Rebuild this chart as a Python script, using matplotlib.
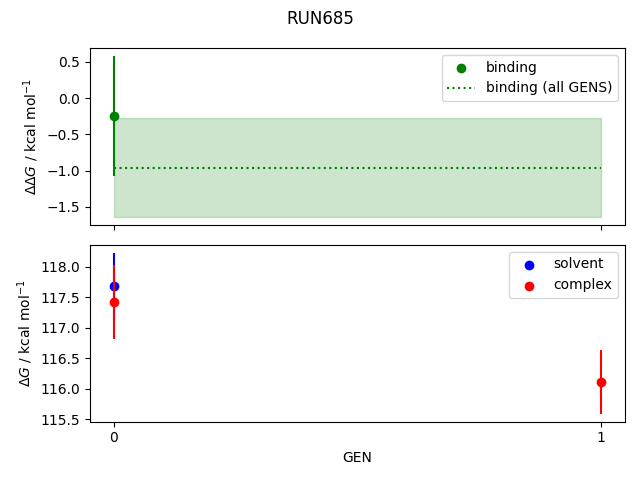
import numpy as np
import matplotlib
matplotlib.use('Agg')
import matplotlib.pyplot as plt

# Data
gens = [0, 1]
binding_gens = [0]
binding = [-0.25]
binding_err = [0.83]
binding_all = -0.96
binding_all_err = 0.68

solvent_gens = [0]
solvent = [117.68]
solvent_err = [0.55]

complex_gens = [0, 1]
complex_ = [117.42, 116.11]
complex_err = [0.61, 0.52]

fig, (ax1, ax2) = plt.subplots(2, 1, sharex=True, figsize=(6.4, 4.8))
fig.suptitle('RUN685')

# Top panel: binding free energy
ax1.errorbar(binding_gens, binding, yerr=binding_err, fmt='none', ecolor='green')
ax1.scatter(binding_gens, binding, color='green', label='binding')
ax1.hlines(binding_all, gens[0], gens[-1], color='green', linestyle=':',
           label='binding (all GENS)')
ax1.fill_between(gens, binding_all - binding_all_err, binding_all + binding_all_err,
                 color='green', alpha=0.2)
ax1.set_ylabel(r'$\Delta\Delta G$ / kcal mol$^{-1}$')
ax1.legend()

# Bottom panel: solvent and complex
ax2.errorbar(solvent_gens, solvent, yerr=solvent_err, fmt='none', ecolor='blue')
ax2.scatter(solvent_gens, solvent, color='blue', label='solvent')
ax2.errorbar(complex_gens, complex_, yerr=complex_err, fmt='none', ecolor='red')
ax2.scatter(complex_gens, complex_, color='red', label='complex')
ax2.set_ylabel(r'$\Delta G$ / kcal mol$^{-1}$')
ax2.set_xlabel('GEN')
ax2.set_xticks(gens)
ax2.legend()

plt.tight_layout()
plt.savefig('out.png')
